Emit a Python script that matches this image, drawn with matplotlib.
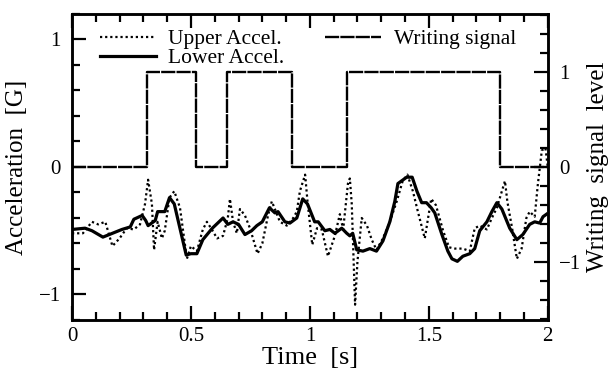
import matplotlib
matplotlib.use("Agg")
import matplotlib.pyplot as plt
from matplotlib.ticker import MultipleLocator

plt.rcParams['font.family'] = ['Liberation Serif', 'DejaVu Serif']
plt.rcParams['mathtext.fontset'] = 'stix'

# Lower accelerometer (solid)
lower_t = [0.0, 0.055, 0.084, 0.13, 0.17, 0.21, 0.245, 0.26, 0.295, 0.31, 0.32, 0.35, 0.36,
           0.39, 0.41, 0.43, 0.48, 0.50, 0.525, 0.55, 0.59, 0.635, 0.655, 0.677, 0.70, 0.727,
           0.755, 0.777, 0.80, 0.83, 0.853, 0.866, 0.895, 0.916, 0.945, 0.97, 0.99, 1.02,
           1.035, 1.063, 1.084, 1.105, 1.134, 1.155, 1.168, 1.18, 1.197, 1.223, 1.252, 1.28,
           1.307, 1.336, 1.357, 1.37, 1.407, 1.43, 1.45, 1.47, 1.49, 1.51, 1.525, 1.555,
           1.58, 1.597, 1.62, 1.643, 1.672, 1.693, 1.714, 1.744, 1.765, 1.786, 1.807, 1.84,
           1.87, 1.895, 1.924, 1.945, 1.966, 1.98, 1.995]
lower = [-0.49, -0.48, -0.50, -0.55, -0.52, -0.49, -0.47, -0.41, -0.38, -0.42, -0.46, -0.42, -0.35,
         -0.35, -0.24, -0.29, -0.69, -0.68, -0.68, -0.57, -0.48, -0.40, -0.45, -0.43, -0.45, -0.53,
         -0.50, -0.46, -0.43, -0.32, -0.36, -0.35, -0.43, -0.44, -0.40, -0.25, -0.29, -0.43,
         -0.43, -0.50, -0.49, -0.52, -0.48, -0.52, -0.54, -0.52, -0.65, -0.66, -0.64, -0.66,
         -0.58, -0.43, -0.27, -0.13, -0.08, -0.08, -0.19, -0.28, -0.28, -0.32, -0.36, -0.53,
         -0.66, -0.72, -0.74, -0.70, -0.68, -0.64, -0.50, -0.43, -0.35, -0.28, -0.33, -0.48,
         -0.57, -0.53, -0.45, -0.43, -0.44, -0.39, -0.37]

# Upper accelerometer (dotted)
upper_t = [0.0, 0.046, 0.084, 0.11, 0.14, 0.17, 0.20, 0.23, 0.26, 0.286, 0.307, 0.32, 0.336,
           0.345, 0.36, 0.378, 0.39, 0.41, 0.43, 0.454, 0.483, 0.50, 0.525, 0.55, 0.567, 0.588,
           0.61, 0.635, 0.655, 0.664, 0.677, 0.693, 0.706, 0.727, 0.748, 0.78, 0.80, 0.824,
           0.84, 0.853, 0.874, 0.903, 0.93, 0.945, 0.958, 0.98, 0.99, 1.01, 1.03, 1.05, 1.076,
           1.105, 1.126, 1.14, 1.16, 1.168, 1.176, 1.19, 1.20, 1.218, 1.24, 1.26, 1.28, 1.307,
           1.336, 1.365, 1.39, 1.41, 1.433, 1.454, 1.483, 1.51, 1.53, 1.56, 1.585, 1.61, 1.643,
           1.672, 1.693, 1.714, 1.744, 1.765, 1.786, 1.807, 1.82, 1.83, 1.85, 1.87, 1.89, 1.91,
           1.924, 1.945, 1.958, 1.975, 1.99, 2.0]
upper = [-0.52, -0.52, -0.43, -0.45, -0.43, -0.62, -0.56, -0.48, -0.49, -0.45, -0.29, -0.10, -0.29,
         -0.65, -0.43, -0.56, -0.50, -0.24, -0.19, -0.32, -0.72, -0.62, -0.66, -0.49, -0.43, -0.49,
         -0.56, -0.54, -0.40, -0.25, -0.43, -0.52, -0.33, -0.38, -0.48, -0.68, -0.60, -0.38,
         -0.27, -0.33, -0.43, -0.46, -0.40, -0.35, -0.19, -0.06, -0.27, -0.61, -0.48, -0.49, -0.70,
         -0.54, -0.37, -0.49, -0.13, -0.09, -0.29, -1.08, -0.74, -0.40, -0.46, -0.57, -0.65, -0.56,
         -0.43, -0.27, -0.11, -0.06, -0.19, -0.35, -0.56, -0.25, -0.30, -0.50, -0.63, -0.64, -0.64,
         -0.66, -0.48, -0.46, -0.49, -0.40, -0.32, -0.19, -0.11, -0.27, -0.48, -0.72, -0.64, -0.40,
         -0.35, -0.39, -0.14, 0.13, 0.15, 0.0]

# Writing signal (step)
signal_time = [0.0, 0.315, 0.52, 0.65, 0.925, 1.155, 1.80, 2.0]
signal_level = [0, 1, 0, 1, 0, 1, 0, 0]

fig = plt.figure(figsize=(6.10, 3.74), dpi=100)
ax = fig.add_axes([0.118, 0.1444, 0.780, 0.8182])
ax2 = ax.twinx()

l_up, = ax.plot(upper_t, upper, color='black', linestyle=(0, (1, 1.3)), lw=1.6,
                label='Upper Accel.')
l_lo, = ax.plot(lower_t, lower, color='black', linestyle='-', lw=2.3, label='Lower Accel.')
l_sig, = ax2.step(signal_time, signal_level, where='post', color='black',
                  linestyle=(0, (6, 0.5)), lw=1.7, label='Writing signal')

ax.set_xlim(0, 2)
ax.set_ylim(-1.2, 1.2)
ax2.set_ylim(-1.61, 1.61)

ax.xaxis.set_major_locator(MultipleLocator(0.5))
ax.xaxis.set_minor_locator(MultipleLocator(0.1))
ax.yaxis.set_major_locator(MultipleLocator(1))
ax.yaxis.set_minor_locator(MultipleLocator(0.2))
ax2.yaxis.set_major_locator(MultipleLocator(1))
ax2.yaxis.set_minor_locator(MultipleLocator(0.2))

ax.set_xticks([0, 0.5, 1, 1.5, 2])
ax.set_xticklabels(['0', '0.5', '1', '1.5', '2'])
ax.set_yticks([-1, 0, 1])
ax.set_yticklabels(['\u22121', '0', '1'])
ax2.set_yticks([-1, 0, 1])
ax2.set_yticklabels(['\u22121', '0', '1'])

ax.tick_params(axis='x', which='both', direction='in', top=True, bottom=True, labelsize=15, pad=5)
ax.tick_params(axis='y', which='both', direction='in', left=True, right=False, labelsize=15, pad=8)
ax.tick_params(which='major', length=10, width=1.6)
ax.tick_params(which='minor', length=6, width=1.6)
ax2.tick_params(axis='y', which='both', direction='in', labelsize=15, pad=8)
ax2.tick_params(which='major', length=10, width=1.6)
ax2.tick_params(which='minor', length=6, width=1.6)

for a in (ax, ax2):
    for s in a.spines.values():
        s.set_linewidth(1.8)

ax.set_xlabel('Time  [s]', fontsize=19, labelpad=1)
ax.set_ylabel('Acceleration  [G]', fontsize=18, labelpad=8)
ax2.set_ylabel('Writing  signal  level', fontsize=18, labelpad=4)

leg = ax.legend(handles=[l_up, l_lo, l_sig], ncol=2, loc='upper left',
                bbox_to_anchor=(0.058, 0.95), frameon=False, fontsize=15.5,
                handlelength=2.6, handletextpad=0.6, columnspacing=1.9,
                labelspacing=-0.05, borderaxespad=0.0, borderpad=0.0)

fig.savefig('out.png', dpi=100)
